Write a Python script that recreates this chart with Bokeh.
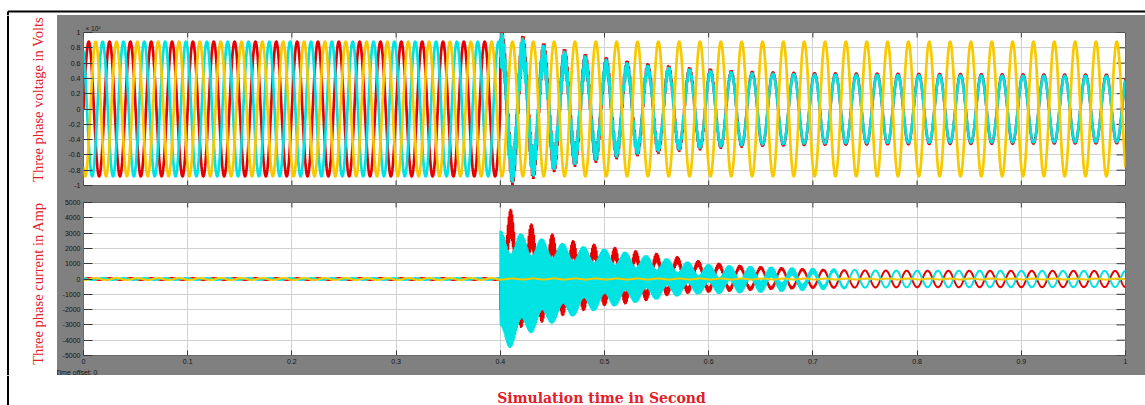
import numpy as np
from bokeh.plotting import figure
from bokeh.models import ColumnDataSource, FixedTicker, Range1d, Title
from bokeh.layouts import column, row
from bokeh.embed import file_html
from bokeh.resources import INLINE
from bokeh.core.properties import value

# ---------------- values ----------------
X_TICKS = [0.0, 0.1, 0.2, 0.3, 0.4, 0.5, 0.6, 0.7, 0.8, 0.9, 1.0]
X_TICK_LABELS = ["0", "0.1", "0.2", "0.3", "0.4", "0.5", "0.6", "0.7", "0.8", "0.9", "1"]
V_TICKS = [-1.0, -0.8, -0.6, -0.4, -0.2, 0.0, 0.2, 0.4, 0.6, 0.8, 1.0]
V_TICK_LABELS = ["-1", "-0.8", "-0.6", "-0.4", "-0.2", "0", "0.2", "0.4", "0.6", "0.8", "1"]
I_TICKS = [-5000, -4000, -3000, -2000, -1000, 0, 1000, 2000, 3000, 4000, 5000]
I_TICK_LABELS = ["-5000", "-4000", "-3000", "-2000", "-1000", "0", "1000", "2000", "3000", "4000", "5000"]

PHASE_COLORS = ["#e60000", "#f9c900", "#00e3e3"]      # phase A red, B yellow, C cyan
PHASE_SHIFT_DEG = [0.0, -120.0, 120.0]
F_HZ = 50.0
T_FAULT = 0.4

# voltage, in units of 1e5 V
V_PRE_AMP = 0.88
V_HEALTHY_AMP = 0.88
V_FAULTED_SHIFT_DEG = 60.0
VF_T = [0.40, 0.42, 0.44, 0.46, 0.48, 0.50, 0.52, 0.54, 0.58, 0.62, 0.70, 0.80, 1.00]
VF_AMP = [0.78, 0.75, 0.68, 0.63, 0.59, 0.57, 0.54, 0.52, 0.49, 0.47, 0.45, 0.44, 0.43]
VF_A_OVER_C = 1.04
VF_RIPPLE_T = [0.40, 0.45, 0.50, 0.55, 0.60, 0.65, 1.00]
VF_RIPPLE = [0.22, 0.15, 0.09, 0.05, 0.025, 0.0, 0.0]
VF_RIPPLE_HZ = 900.0

# current, A
I_PRE_AMP = 60.0
I_B_POST_AMP = 30.0
IA_TOP_T = [0.40, 0.41, 0.43, 0.45, 0.47, 0.49, 0.51, 0.53, 0.55, 0.57, 0.59, 0.62, 0.65, 0.68, 0.71, 0.74, 0.80, 1.00]
IA_TOP = [4600, 4600, 3630, 2970, 2530, 2310, 2090, 1870, 1700, 1480, 1210, 950, 820, 700, 620, 560, 540, 530]
IA_BOT_T = [0.40, 0.42, 0.44, 0.46, 0.48, 0.50, 0.52, 0.54, 0.56, 0.58, 0.60, 0.63, 0.66, 0.70, 0.74, 0.80, 1.00]
IA_BOT = [-3000, -3200, -2860, -2420, -2090, -1760, -1650, -1430, -1100, -950, -880, -780, -680, -600, -560, -540, -530]
IC_TOP_T = [0.40, 0.41, 0.427, 0.448, 0.471, 0.49, 0.512, 0.542, 0.574, 0.592, 0.624, 0.656, 0.688, 0.72, 0.75, 0.80, 1.00]
IC_TOP = [3190, 3190, 2860, 2530, 2200, 2090, 1870, 1540, 1210, 990, 880, 815, 730, 660, 560, 540, 530]
IC_BOT_T = [0.40, 0.4075, 0.427, 0.448, 0.471, 0.49, 0.512, 0.542, 0.574, 0.592, 0.624, 0.656, 0.688, 0.72, 0.75, 0.80, 1.00]
IC_BOT = [-4625, -4625, -3630, -2970, -2420, -2090, -1760, -1430, -1100, -1000, -950, -880, -770, -660, -560, -540, -530]
I_HF_T = [0.40, 0.45, 0.50, 0.55, 0.60, 0.65, 0.70, 0.74, 1.00]
IA_HF_SHARE = [0.25, 0.25, 0.22, 0.20, 0.18, 0.12, 0.08, 0.0, 0.0]
IC_HF_SHARE = [0.80, 0.80, 0.75, 0.70, 0.60, 0.45, 0.25, 0.0, 0.0]
I_HF_HZ = 1150.0

V_LABEL = "Three phase voltage in Volts"
I_LABEL = "Three phase current in Amp"
X_LABEL = "Simulation time in Second"
V_EXPONENT = "× 10⁵"
TIME_OFFSET = "Time offset:   0"

# ---------------- waveforms built from the readings ----------------
t = np.linspace(0.0, 1.0, 20001)
tau = t - T_FAULT
post = t >= T_FAULT
w = 2 * np.pi * F_HZ


def env(T, V):
    return np.interp(t, T, V)


def rad(d):
    return np.deg2rad(d)


v_pre = [V_PRE_AMP * np.sin(w * t + rad(s)) for s in PHASE_SHIFT_DEG]
vf_amp = env(VF_T, VF_AMP)
vf_rip = env(VF_RIPPLE_T, VF_RIPPLE)
v_fault_c = vf_amp * np.sin(w * t + rad(V_FAULTED_SHIFT_DEG)) + vf_rip * np.sin(2 * np.pi * VF_RIPPLE_HZ * tau)
v_fault_a = VF_A_OVER_C * vf_amp * np.sin(w * t + rad(V_FAULTED_SHIFT_DEG)) + vf_rip * np.sin(2 * np.pi * VF_RIPPLE_HZ * tau + 1.6)
va = np.where(post, v_fault_a, v_pre[0])
vb = np.where(post, V_HEALTHY_AMP * np.sin(w * t + rad(PHASE_SHIFT_DEG[1])), v_pre[1])
vc = np.where(post, v_fault_c, v_pre[2])

c50 = np.cos(w * tau)
a_top, a_bot = env(IA_TOP_T, IA_TOP), env(IA_BOT_T, IA_BOT)
c_top, c_bot = env(IC_TOP_T, IC_TOP), env(IC_BOT_T, IC_BOT)
ma = env(I_HF_T, IA_HF_SHARE)
mc = env(I_HF_T, IC_HF_SHARE)
ia_post = (a_top + a_bot) / 2 + (a_top - a_bot) / 2 * ((1 - ma) * (-c50) + ma * np.sin(2 * np.pi * I_HF_HZ * tau))
ic_post = (c_top + c_bot) / 2 + (c_top - c_bot) / 2 * ((1 - mc) * c50 + mc * np.sin(2 * np.pi * I_HF_HZ * tau + 1.1))
ia = np.where(post, ia_post, I_PRE_AMP * np.sin(w * t + rad(PHASE_SHIFT_DEG[0])))
ib = np.where(post, I_B_POST_AMP * np.sin(w * t + rad(PHASE_SHIFT_DEG[1])), I_PRE_AMP * np.sin(w * t + rad(PHASE_SHIFT_DEG[1])))
ic = np.where(post, ic_post, I_PRE_AMP * np.sin(w * t + rad(PHASE_SHIFT_DEG[2])))

src = ColumnDataSource(data=dict(t=t, va=va, vb=vb, vc=vc, ia=ia, ib=ib, ic=ic))

# ---------------- styling ----------------
GRAY = "#808080"
TICK_COLOR = "#383838"
GRID_COLOR = "#d0d0d0"
LABEL_COLOR = "#151515"
RED_TEXT = "#e3202a"
X_TICK_LEN = 5
Y_TICK_LEN = 9


def style_axis(ax, ticks, labels, tick_in):
    ax.ticker = FixedTicker(ticks=ticks, minor_ticks=[])
    ax.major_tick_in = tick_in
    ax.major_tick_out = 0
    ax.major_tick_line_color = TICK_COLOR
    ax.minor_tick_line_color = None
    ax.axis_line_color = None
    ax.major_label_overrides = dict(zip(ticks, labels))
    ax.major_label_text_font = "Liberation Sans"
    ax.major_label_text_font_size = "7px"
    ax.major_label_text_color = LABEL_COLOR
    ax.major_label_standoff = 3


def inner_ticks(p, yticks, bottom_side):
    # MATLAB-style box: short inward ticks on the unlabeled sides
    n = len(X_TICKS)
    p.ray(x=X_TICKS, y=[yticks[-1]] * n, length=X_TICK_LEN, length_units="screen",
          angle=-np.pi / 2, line_color=TICK_COLOR, line_width=1)
    if bottom_side:
        p.ray(x=X_TICKS, y=[yticks[0]] * n, length=X_TICK_LEN, length_units="screen",
              angle=np.pi / 2, line_color=TICK_COLOR, line_width=1)
    m = len(yticks)
    p.ray(x=[X_TICKS[-1]] * m, y=yticks, length=Y_TICK_LEN, length_units="screen",
          angle=np.pi, line_color=TICK_COLOR, line_width=1)


def make_panel(height, b_top, b_bottom, yticks, ylabels, show_x_axis):
    p = figure(width=1088, height=height, x_range=Range1d(X_TICKS[0], X_TICKS[-1]),
               y_range=Range1d(yticks[0], yticks[-1]), title=None,
               output_backend="svg", toolbar_location=None,
               min_border_left=26, min_border_right=20, min_border_top=b_top, min_border_bottom=b_bottom,
               background_fill_color="white", border_fill_color=GRAY, outline_line_color="#6a6a6a")
    style_axis(p.xaxis[0], X_TICKS, X_TICK_LABELS, X_TICK_LEN)
    p.xaxis.visible = show_x_axis
    style_axis(p.yaxis[0], yticks, ylabels, Y_TICK_LEN)
    p.xgrid.ticker = FixedTicker(ticks=X_TICKS)
    p.ygrid.ticker = FixedTicker(ticks=yticks)
    p.grid.grid_line_color = GRID_COLOR
    p.grid.grid_line_width = 1
    inner_ticks(p, yticks, not show_x_axis)
    return p


def blank(width, height):
    p = figure(width=width, height=height, x_range=Range1d(0, width), y_range=Range1d(0, height),
               x_axis_location=None, y_axis_location=None, min_border=0, title=None,
               frame_align=False,
               output_backend="svg", toolbar_location=None,
               background_fill_color="white", border_fill_color="white", outline_line_color=None)
    p.grid.visible = False
    return p


# top panel: voltage
pv = make_panel(179, 17, 9, V_TICKS, V_TICK_LABELS, False)
pv.add_layout(Title(text=V_EXPONENT, align="left", offset=2, standoff=1, text_font_size="6.5px",
                    text_font_style="normal", text_color=LABEL_COLOR, text_font="Liberation Sans"), "above")
pv.line("t", "va", source=src, line_color=PHASE_COLORS[0], line_width=2.7)
pv.line("t", "vc", source=src, line_color=PHASE_COLORS[2], line_width=2.7)
pv.line("t", "vb", source=src, line_color=PHASE_COLORS[1], line_width=2.7)

# bottom panel: current
pi_ = make_panel(181, 8, 20, I_TICKS, I_TICK_LABELS, True)
pi_.add_layout(Title(text=TIME_OFFSET, align="left", offset=-28, standoff=0, text_font_size="7px",
                     text_font_style="normal", text_color=LABEL_COLOR, text_font="Liberation Sans"), "below")
pi_.line("t", "ia", source=src, line_color=PHASE_COLORS[0], line_width=2.0)
pi_.line("t", "ic", source=src, line_color=PHASE_COLORS[2], line_width=2.0)
pi_.line("t", "ib", source=src, line_color=PHASE_COLORS[1], line_width=2.0)

# surrounding frame and texts
FRAME_X = 7.5
strip = blank(1145, 15)
strip.segment(x0=[FRAME_X], y0=[4], x1=[1145], y1=[4], line_color="black", line_width=1.8)
strip.segment(x0=[FRAME_X], y0=[0], x1=[FRAME_X], y1=[4], line_color="black", line_width=2)

labels = blank(57, 360)
labels.segment(x0=[FRAME_X], y0=[0], x1=[FRAME_X], y1=[360], line_color="black", line_width=2)
labels.text(x=[37, 37], y=[276, 92], text=[V_LABEL, I_LABEL], angle=np.pi / 2,
            text_align="center", text_baseline="middle",
            text_font=value("Liberation Serif"), text_font_size="14.5px", text_color=RED_TEXT)

bottom = blank(1145, 30)
bottom.segment(x0=[FRAME_X], y0=[0], x1=[FRAME_X], y1=[30], line_color="black", line_width=2)
bottom.text(x=[601], y=[8], text=[X_LABEL], text_align="center", text_baseline="middle",
            text_font=value("DejaVu Serif"), text_font_size="14px", text_font_style="bold", text_color=RED_TEXT)

panels = column(pv, pi_, spacing=0, styles={"background-color": GRAY})
layout = column(strip, row(labels, panels, spacing=0), bottom, spacing=0)

open("out.html", "w").write(file_html(layout, INLINE))
